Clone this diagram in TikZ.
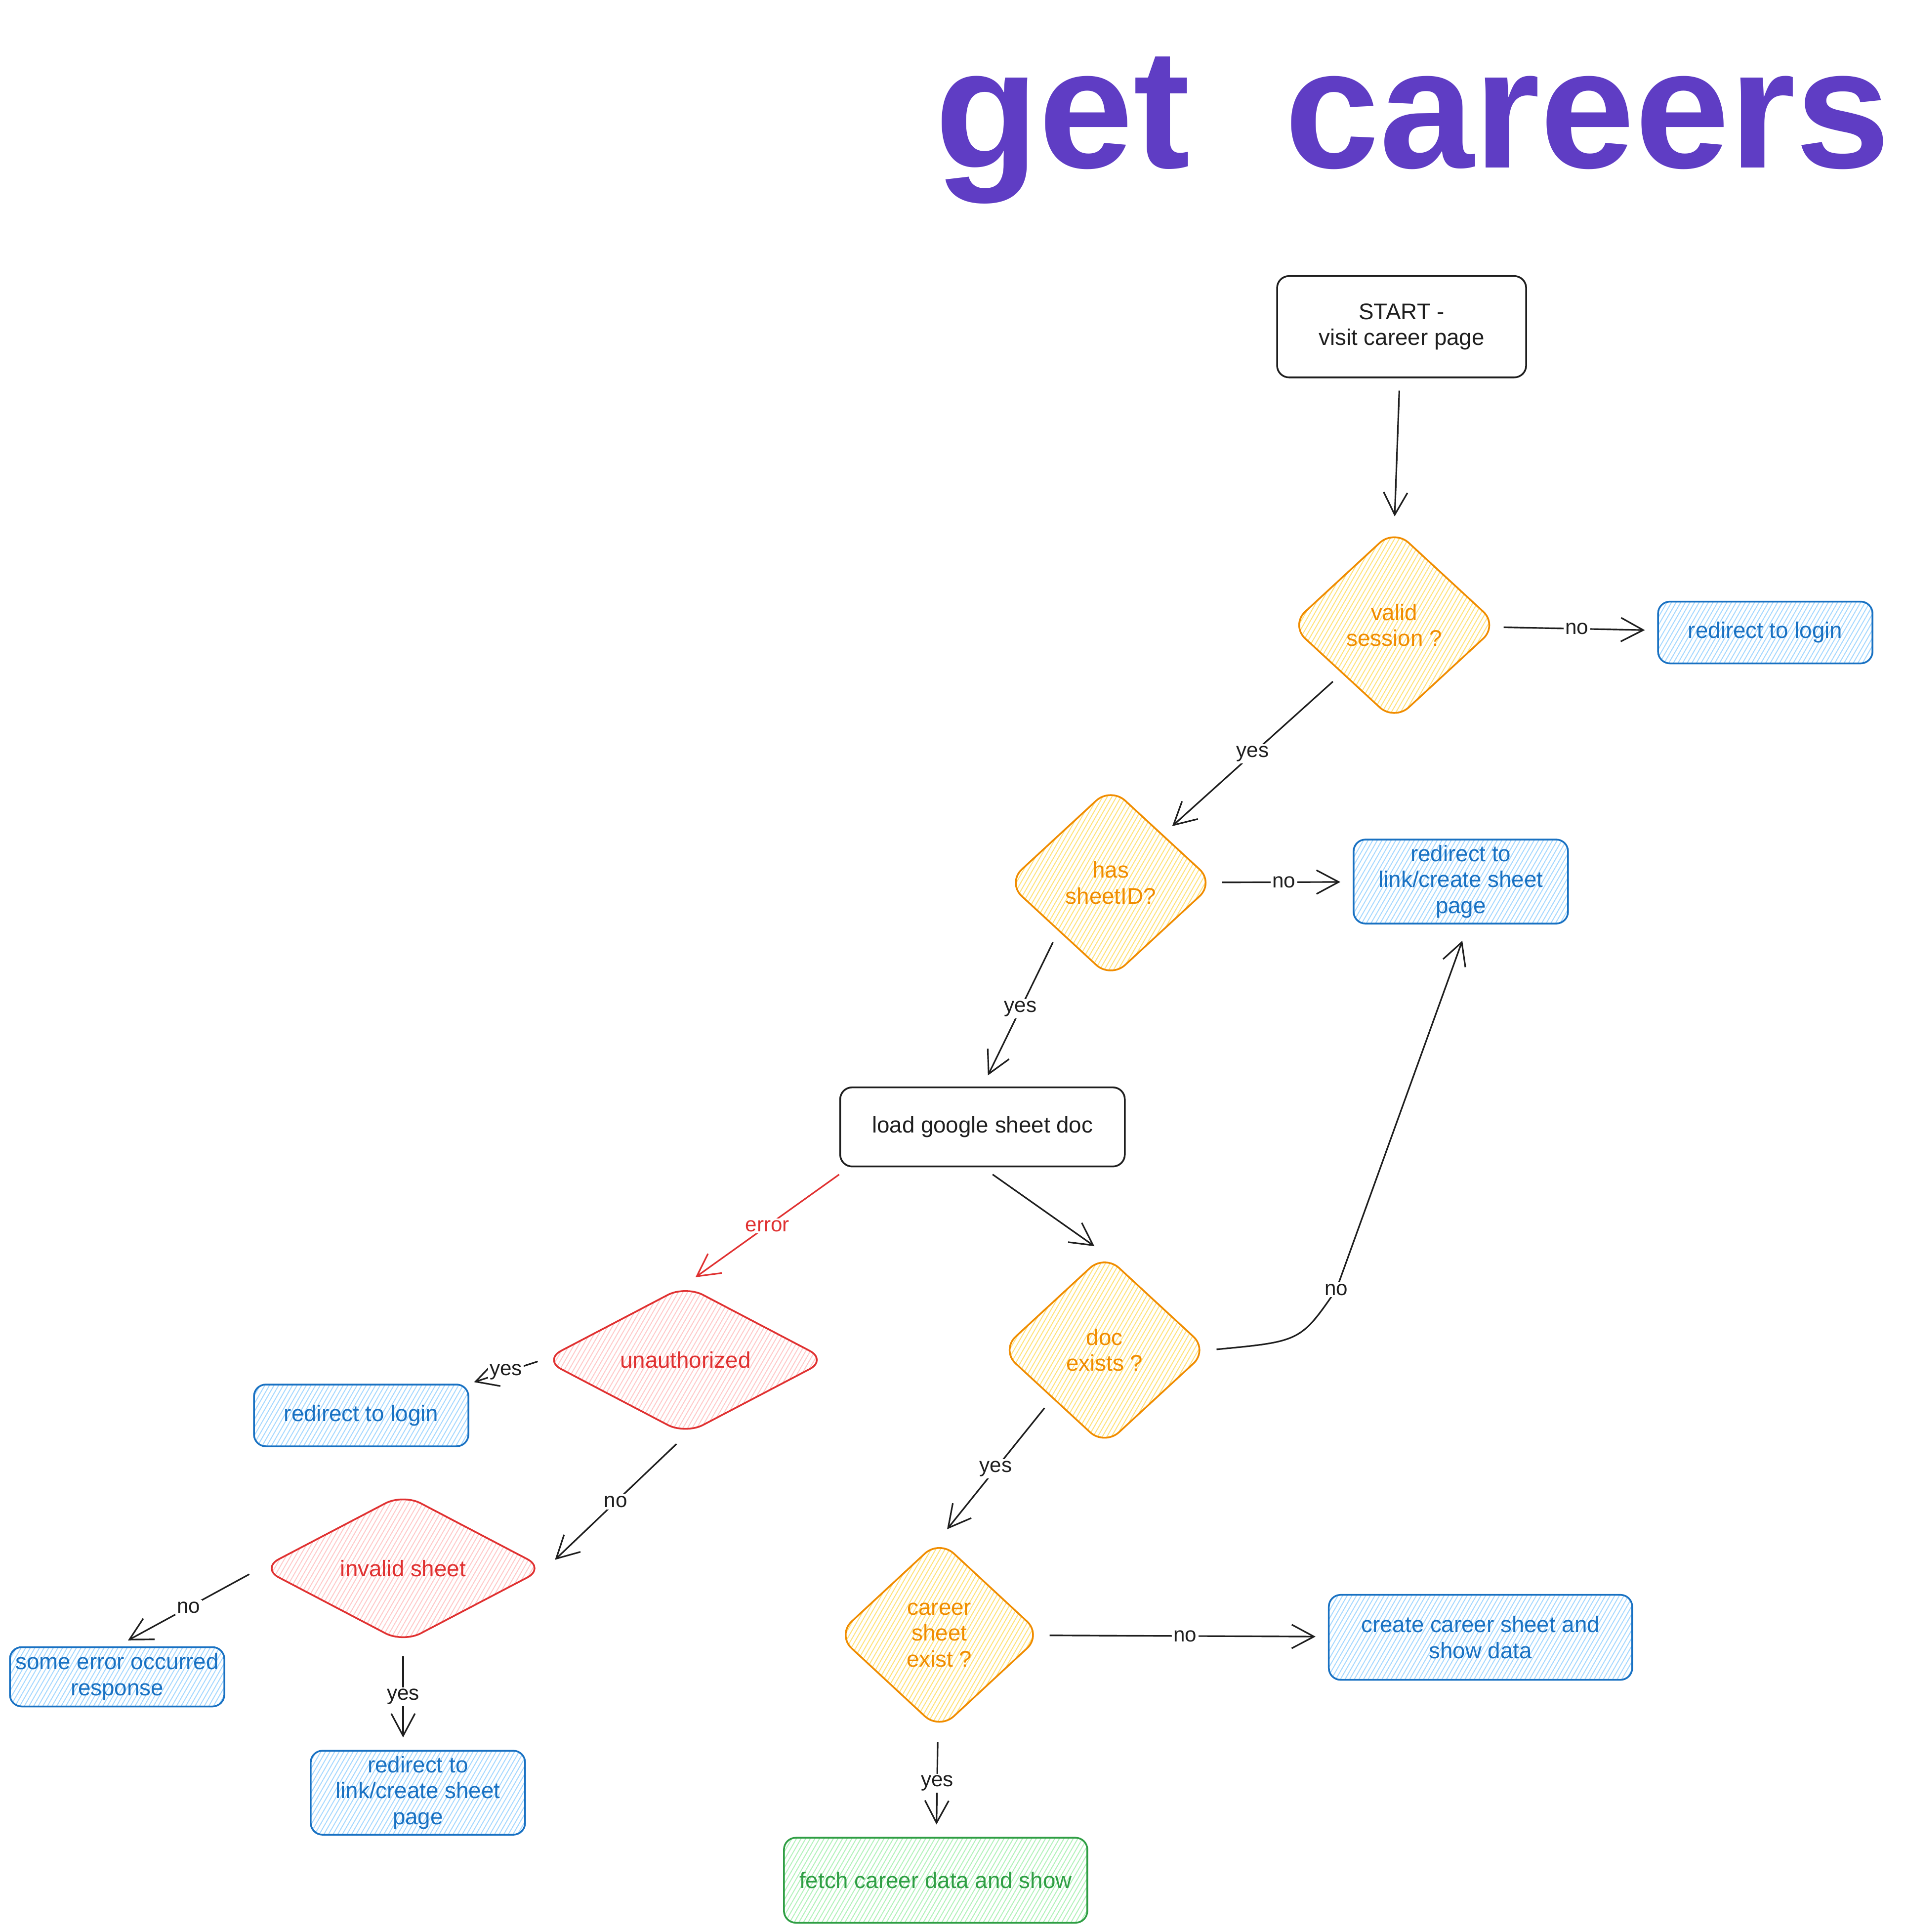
\documentclass[tikz,border=0pt]{standalone}
\usepackage{fontspec}
\setmainfont{Liberation Sans}
\usetikzlibrary{shapes.geometric,arrows.meta,patterns.meta}

\definecolor{ink}{HTML}{1E1E1E}
\definecolor{titleviolet}{HTML}{5F3DC4}
\definecolor{ostroke}{HTML}{F08C00}
\definecolor{ofill}{HTML}{FFE27A}
\definecolor{bstroke}{HTML}{1971C2}
\definecolor{bfill}{HTML}{A5D8FF}
\definecolor{rstroke}{HTML}{E03131}
\definecolor{rfill}{HTML}{FFC9C9}
\definecolor{gstroke}{HTML}{2F9E44}
\definecolor{gfill}{HTML}{B2F2BB}

\tikzset{
  every node/.style={font=\fontsize{13}{15}\selectfont, align=center},
  hatch/.style={pattern={Lines[angle=60,distance=2.3pt,line width=0.55pt]}, pattern color=#1},
  flow/.style={line width=1pt, rounded corners=2.4mm, inner sep=2pt},
  plainbox/.style={flow, draw=ink, text=ink},
  bluebox/.style={flow, draw=bstroke, text=bstroke, hatch=bfill, minimum width=4.34cm},
  greenbox/.style={flow, draw=gstroke, text=gstroke, hatch=gfill},
  ask/.style={diamond, line width=1pt, rounded corners=4mm, inner sep=0pt,
    minimum width=4.2cm, minimum height=3.88cm, draw=ostroke, text=ostroke, hatch=ofill},
  askred/.style={ask, shape aspect=1.9, minimum width=5.75cm, minimum height=3.02cm,
    draw=rstroke, text=rstroke, hatch=rfill},
  link/.style={draw=ink, line width=0.9pt, -{Straight Barb[length=4.5mm,width=4.8mm]},
    shorten <=2.5mm, shorten >=2.5mm},
  lbl/.style={fill=white, inner sep=1pt, text=ink, font=\fontsize{12}{14}\selectfont}
}

\begin{document}
\begin{tikzpicture}[x=0.02495cm, y=-0.02495cm]
	\useasboundingbox (0,0) rectangle (1545,1567);
	\node[font=\fontsize{98}{110}\selectfont\bfseries, text=titleviolet, anchor=base] (title) at (1146,136) {get\hspace{.28em} careers};

	\node[plainbox, minimum width=5.04cm, minimum height=2.05cm] (start) at (1137,265) {START -\\visit career page};
	\node[ask] (valid) at (1131,507) {valid\\session ?};
	\node[bluebox, minimum height=1.25cm] (loginR) at (1432,513) {redirect to login};
	\node[ask] (has) at (901,716) {has\\sheetID?};
	\node[bluebox, minimum height=1.70cm] (sheetR) at (1185,715) {redirect to\\link/create sheet\\page};
	\node[plainbox, minimum width=5.76cm, minimum height=1.60cm] (load) at (797,914) {load google sheet doc};
	\node[askred] (unauth) at (556,1103) {unauthorized};
	\node[bluebox, minimum height=1.25cm] (loginL) at (293,1148) {redirect to login};
	\node[ask] (doc) at (896,1095) {doc\\exists ?};
	\node[askred] (invalid) at (327,1272) {invalid sheet};
	\node[bluebox, minimum height=1.20cm] (someerr) at (95,1360) {some error occurred\\response};
	\node[bluebox, minimum height=1.70cm] (sheetL) at (339,1454) {redirect to\\link/create sheet\\page};
	\node[ask, minimum width=4.15cm, minimum height=3.85cm] (career) at (762,1326) {career\\sheet\\exist ?};
	\node[bluebox, minimum width=6.14cm, minimum height=1.72cm] (create) at (1201,1328) {create career sheet and\\show data};
	\node[greenbox, minimum width=6.14cm, minimum height=1.72cm] (fetch) at (759,1525) {fetch career data and show};

	\draw[link] (start) -- (valid.north);
	\draw[link, shorten <=1.5mm] (valid) -- node[lbl]{no} (loginR);
	\draw[link] (valid.south west) -- node[lbl]{yes} (has.north east);
	\draw[link, shorten <=1.5mm] (has) -- node[lbl]{no} (sheetR);
	\draw[link] (has.south west) -- node[lbl]{yes} (load.north);
	\draw[link, draw=rstroke] ([xshift=2mm]load.south west) -- node[lbl, text=rstroke]{error} (unauth.north);
	\draw[link] (load.south) -- (doc.north);
	\draw[link, shorten <=1.5mm, shorten >=3.5mm] (doc.east) .. controls (1055,1088) .. (1084,1046) node[lbl]{no} -- ([xshift=1.5mm]sheetR.south);
	\draw[link, shorten >=1mm, shorten <=1mm] (unauth.west) -- node[lbl]{yes} (loginL.north east);
	\draw[link] (unauth.south) -- node[lbl]{no} (invalid.east);
	\draw[link] (invalid.west) -- node[lbl]{no} (someerr.north);
	\draw[link] (invalid.south) -- node[lbl]{yes} (invalid.south |- sheetL.north);
	\draw[link] (doc.south west) -- node[lbl]{yes} (career.north);
	\draw[link, shorten <=1.5mm] (career) -- node[lbl]{no} (create);
	\draw[link] (career) -- node[lbl]{yes} (fetch);
\end{tikzpicture}
\end{document}
